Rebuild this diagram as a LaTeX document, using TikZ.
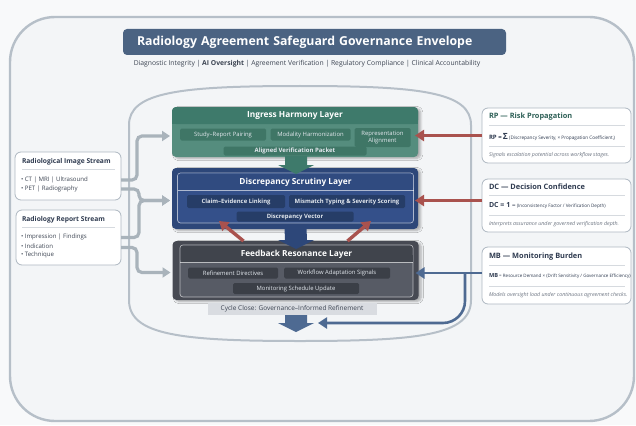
\documentclass[tikz,border=0pt]{standalone}
\usepackage{fontspec}
\setmainfont{Open Sans}
\usetikzlibrary{arrows.meta,calc,positioning,shadows.blur}

\definecolor{pagebg}{HTML}{F8F9FA}
\definecolor{envfill}{HTML}{F3F5F7}
\definecolor{envline}{HTML}{B6BFC8}
\definecolor{bannerblue}{HTML}{4B6382}
\definecolor{subink}{HTML}{3C4452}
\definecolor{ingresshead}{HTML}{3E7A6B}
\definecolor{ingressbody}{HTML}{558D7E}
\definecolor{ingresscell}{HTML}{3F7666}
\definecolor{scrutbody}{HTML}{2D4779}
\definecolor{scruthead}{HTML}{304B80}
\definecolor{scrutpanel}{HTML}{34508A}
\definecolor{scrutcell}{HTML}{263D67}
\definecolor{feedbody}{HTML}{474A53}
\definecolor{feedhead}{HTML}{40444C}
\definecolor{feedpanel}{HTML}{575B65}
\definecolor{feedcell}{HTML}{3B3F47}
\definecolor{riskred}{HTML}{A9524E}
\definecolor{flowblue}{HTML}{4E6A92}
\definecolor{streamgrey}{HTML}{A9B3BB}
\definecolor{cardline}{HTML}{AEB7C1}
\definecolor{cardrule}{HTML}{D6DADF}
\definecolor{cardink}{HTML}{2F3B50}
\definecolor{rpteal}{HTML}{2E6057}
\definecolor{noteink}{HTML}{6B7380}
\definecolor{cyclefill}{HTML}{D9DCE1}
\definecolor{cellink}{HTML}{E3E8EE}

\newcommand\blockdown[3]{\fill[#1] ($(#2)+(-11,0)$) -- ($(#3)+(-11,-9)$) -- ($(#3)+(-18,-9)$) -- (#3)
  -- ($(#3)+(18,-9)$) -- ($(#3)+(11,-9)$) -- ($(#2)+(11,0)$) -- cycle;}
\newcommand\idx[1]{\raisebox{-0.8pt}{\fontsize{3}{3}\selectfont #1}}

\begin{document}
\begin{tikzpicture}[x=1pt,y=-1pt,
  every node/.style={inner sep=0pt,outer sep=0pt},
  layer/.style={fill=#1,rounded corners=4pt,minimum width=246pt,
    blur shadow={shadow blur steps=6,shadow yshift=-1.5pt,shadow opacity=30}},
  panel/.style={fill=#1,draw=white,draw opacity=0.6,line width=0.7pt,rounded corners=3pt},
  divider/.style={draw=white,draw opacity=0.6,line width=0.7pt},
  headtext/.style={text=white,font=\fontsize{8.3}{9}\selectfont\bfseries},
  cell/.style={fill=#1,rounded corners=1.5pt,text=cellink,align=center,font=\fontsize{5.9}{6.4}\selectfont},
  card/.style={draw=cardline,line width=0.8pt,rounded corners=6pt,fill=white},
  cardtitle/.style={anchor=west,text=cardink,font=\fontsize{6.7}{7}\selectfont\bfseries},
  bulletline/.style={anchor=west,text=subink,font=\fontsize{6.1}{6.5}\selectfont},
  metrictitle/.style={anchor=west,text=cardink,font=\fontsize{7.4}{8}\selectfont\bfseries},
  formula/.style={anchor=west,text=cardink,font=\fontsize{4.7}{5}\selectfont},
  note/.style={anchor=west,text=noteink,font=\fontsize{5.3}{5.5}\selectfont\itshape},
  rulel/.style={draw=cardrule,line width=0.6pt},
  stream/.style={draw=streamgrey,line width=3.2pt,rounded corners=5pt,-{Triangle[length=8pt,width=10pt]}},
  riskarrow/.style={draw=riskred,line width=3.4pt,-{Triangle[length=9pt,width=11pt]}},
  flowline/.style={draw=flowblue,line width=2.6pt,-{Triangle[length=9pt,width=11pt]}}]

\useasboundingbox (0,0) rectangle (636,425);
\fill[pagebg] (0,0) rectangle (636,425);
\draw[envline,line width=2.4pt,fill=envfill,rounded corners=45pt] (10,17) rectangle (634,421);

\node[fill=bannerblue,rounded corners=4pt,minimum width=383pt,minimum height=26pt,text width=355pt,align=left,
  text=white,font=\fontsize{12.3}{13}\selectfont\bfseries] (banner) at (314.5,42) {Radiology Agreement Safeguard Governance Envelope};
\node[text=subink,font=\fontsize{6.8}{7}\selectfont] (tagline) at (307,64)
  {Diagnostic Integrity | \textbf{AI Oversight} | Agreement Verification | Regulatory Compliance | Clinical Accountability};

\draw[envline,line width=2pt] (129,300) -- (129,125) .. controls (129,92) and (180,86) .. (300,86)
  .. controls (420,86) and (471,92) .. (471,125) -- (471,300) .. controls (471,335) and (420,341) .. (300,341)
  .. controls (180,341) and (129,335) .. (129,300) -- cycle;

% ingress
\node[layer=ingressbody,minimum height=50pt] (ingress) at (295,132) {};
\fill[ingresshead,rounded corners=4pt] (ingress.north west) rectangle ($(ingress.north east)+(0,17)$);
\fill[ingresshead] ($(ingress.north west)+(0,10)$) rectangle ($(ingress.north east)+(0,17)$);
\node[headtext] (ingresstitle) at ($(ingress.north)+(0,9)$) {Ingress Harmony Layer};
\foreach \txt/\cx/\w [count=\n] in {Study–Report Pairing/223/86,Modality Harmonization/310.5/80}
  \node[cell=ingresscell,minimum width=\w pt,minimum height=12pt] (ing\n) at (\cx,134.5) {\txt};
\node[cell=ingresscell,minimum width=56pt,minimum height=19pt] (ing3) at (382.5,137.5) {Representation\\Alignment};
\node[cell=ingresscell,minimum width=143pt,minimum height=9pt,font=\fontsize{6}{6}\selectfont\bfseries] (packet) at (295,151) {Aligned Verification Packet};

% scrutiny
\node[layer=scrutbody,minimum height=61pt] (scrutiny) at (295,198.5) {};
\node[panel=scrutpanel,minimum width=236pt,minimum height=50pt] (scrutpane) at (295.5,198) {};
\fill[scruthead,rounded corners=2.5pt] ($(scrutpane.north west)+(0.5,0.5)$) rectangle ($(scrutpane.north east)+(-0.5,17)$);
\fill[scruthead] ($(scrutpane.north west)+(0.5,10)$) rectangle ($(scrutpane.north east)+(-0.5,17)$);
\draw[divider] ($(scrutpane.north west)+(0,17)$) -- ($(scrutpane.north east)+(0,17)$);
\node[headtext] (scrutinytitle) at ($(scrutpane.north)+(0,9.5)$) {Discrepancy Scrutiny Layer};
\foreach \txt/\cx/\w [count=\n] in {Claim–Evidence Linking/236/98,Mismatch Typing \& Severity Scoring/347/116}
  \node[cell=scrutcell,minimum width=\w pt,minimum height=13pt,font=\fontsize{5.9}{6.3}\selectfont\bfseries] (scr\n) at (\cx,201.5) {\txt};
\node[cell=scrutcell,minimum width=117pt,minimum height=10pt,font=\fontsize{5.9}{6}\selectfont\bfseries] (vector) at (295,216.5) {Discrepancy Vector};

% feedback
\node[layer=feedbody,minimum height=59pt] (feedback) at (295.5,270.5) {};
\node[panel=feedpanel,minimum width=233pt,minimum height=52pt] (feedpane) at (296.5,271) {};
\fill[feedhead,rounded corners=2.5pt] ($(feedpane.north west)+(0.5,0.5)$) rectangle ($(feedpane.north east)+(-0.5,17)$);
\fill[feedhead] ($(feedpane.north west)+(0.5,10)$) rectangle ($(feedpane.north east)+(-0.5,17)$);
\draw[divider] ($(feedpane.north west)+(0,17)$) -- ($(feedpane.north east)+(0,17)$);
\node[headtext] (feedbacktitle) at ($(feedpane.north)+(0,9)$) {Feedback Resonance Layer};
\foreach \txt/\cx/\w [count=\n] in {Refinement Directives/233/90,Workflow Adaptation Signals/337/106}
  \node[cell=feedcell,minimum width=\w pt,minimum height=11pt] (fbk\n) at (\cx,273) {\txt};
\node[cell=feedcell,minimum width=126pt,minimum height=11pt] (schedule) at (296,288.5) {Monitoring Schedule Update};

\node[fill=cyclefill,minimum width=169pt,minimum height=12pt,text=subink,font=\fontsize{6.5}{7}\selectfont] (cycle) at (292,309)
  {Cycle Close: Governance–Informed Refinement};

\coordinate (cycletip) at (296,332);
\coordinate (cycletop) at (296,315);
\coordinate (ingressout) at ($(ingress.south)+(1,-1)$);
\coordinate (ingresstip) at ($(scrutiny.north)+(1,6)$);
\coordinate (scrutout) at ($(scrutiny.south)+(0.5,-1)$);
\coordinate (scruttip) at ($(feedback.north)+(0.5,8)$);
\blockdown{ingresshead}{ingressout}{ingresstip}
\blockdown{scrutbody}{scrutout}{scruttip}
\blockdown{flowblue}{cycletop}{cycletip}

\draw[riskarrow] ($(feedback.north)+(-52,0)$) -- ($(scrutiny.south)+(-76,-8)$);
\draw[riskarrow] ($(feedback.north)+(52,0)$) -- ($(scrutiny.south)+(76,-8)$);

% streams
\node[card,minimum width=106pt,minimum height=48pt] (imgbox) at (68,176) {};
\node[cardtitle] (imgtitle) at (22,162) {Radiological Image Stream};
\draw[rulel] (22,169) -- (115,169);
\node[bulletline] (imgline1) at (21,180) {• CT | MRI | Ultrasound};
\node[bulletline] (imgline2) at (21,189) {• PET | Radiography};

\node[card,minimum width=105pt,minimum height=55pt] (rptbox) at (68.5,237.5) {};
\node[cardtitle] (rpttitle) at (22,220) {Radiology Report Stream};
\draw[rulel] (22,227) -- (115,227);
\foreach \txt [count=\n] in {Impression | Findings,Indication,Technique}
  \node[bulletline] (rptline\n) at (21,228+9*\n) {• \txt};

\draw[stream] ($(imgbox.east)+(0,4)$) -- ++(16,0) |- ($(ingress.west)+(-2,4)$);
\draw[stream] ($(imgbox.east)+(0,13)$) -- ++(18,0) |- ($(scrutiny.west)+(-2,2)$);
\draw[stream] (rptbox.east) -- ++(18,0) |- ($(scrutiny.west)+(-2,2)$);
\draw[stream] ($(rptbox.east)+(0,10)$) -- ++(16,0) |- ($(feedback.west)+(-2,2)$);

% metrics
\node[card,minimum width=149pt,minimum height=55pt] (rpbox) at (556.5,135.5) {};
\node[metrictitle,text=rpteal] (rptitle) at (489,117) {RP — Risk Propagation};
\draw[rulel] (489,125) -- (625,125);
\node[formula] (rpformula) at (489,137) {{\bfseries\fontsize{6}{6}\selectfont RP =} {\bfseries\fontsize{8.5}{8}\selectfont Σ} (Discrepancy Severity\idx{i} × Propagation Coefficient\idx{i})};
\draw[rulel] (489,146) -- (625,146);
\node[note] (rpnote) at (489,155) {Signals escalation potential across workflow stages.};

\node[card,minimum width=149pt,minimum height=53pt] (dcbox) at (556.5,205.5) {};
\node[metrictitle] (dctitle) at (489,187) {DC — Decision Confidence};
\draw[rulel] (489,195) -- (625,195);
\node[formula,font=\fontsize{4.6}{5}\selectfont] (dcformula) at (489,206) {{\bfseries\fontsize{7}{7}\selectfont DC = 1 –} (Inconsistency Factor / Verification Depth)};
\draw[rulel] (489,215) -- (625,215);
\node[note] (dcnote) at (489,224) {Interprets assurance under governed verification depth.};

\node[card,minimum width=149pt,minimum height=57pt] (mbbox) at (556.5,275.5) {};
\node[metrictitle] (mbtitle) at (489,257) {MB — Monitoring Burden};
\draw[rulel] (489,265) -- (625,265);
\node[formula,font=\fontsize{4.5}{5}\selectfont] (mbformula) at (489,276) {{\bfseries\fontsize{5.6}{6}\selectfont MB} = Resource Demand × (Drift Sensitivity / Governance Efficiency)};
\draw[rulel] (489,286) -- (625,286);
\node[note] (mbnote) at (489,295) {Models oversight load under continuous agreement checks.};

\coordinate (rpport) at (rpbox.west);
\coordinate (dcport) at ($(dcbox.west)+(0,-5)$);
\coordinate (mbport) at ($(mbbox.west)+(0,-2.5)$);
\draw[riskarrow,shorten >=-3pt] (rpport) -- (rpport -| ingress.east);
\draw[riskarrow,shorten >=-3pt] (dcport) -- (dcport -| scrutiny.east);
\draw[flowline,shorten >=-3pt] (mbport) -- (mbport -| feedback.east);
\draw[flowline,rounded corners=22pt] ($(mbport)+(-17,0)$) |- ($(cycletip)+(22,-9)$);
\end{tikzpicture}
\end{document}
